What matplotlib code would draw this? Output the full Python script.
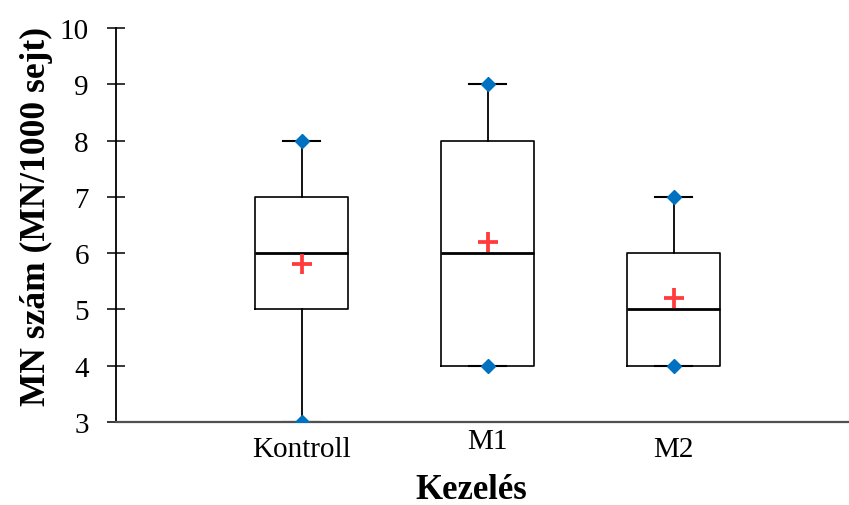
import matplotlib
matplotlib.use("Agg")
import matplotlib.pyplot as plt
import matplotlib.transforms as mtransforms

plt.rcParams["font.family"] = ["Liberation Serif", "DejaVu Serif"]

# adatok
categories = ["Kontroll", "M1", "M2"]
mins = [3, 4, 4]
q1s = [5, 4, 4]
medians = [6, 6, 5]
q3s = [7, 8, 6]
maxs = [8, 9, 7]
means = [5.8, 6.2, 5.2]

stats = []
for i in range(len(categories)):
    stats.append({
        "label": categories[i],
        "whislo": mins[i],
        "q1": q1s[i],
        "med": medians[i],
        "q3": q3s[i],
        "whishi": maxs[i],
        "fliers": [],
    })

fig = plt.figure(figsize=(8.49, 5.06), dpi=100)
ax = fig.add_axes([116 / 849, 1 - 423 / 506, 1 - 116 / 849, (423 - 29) / 506])

positions = [1, 2, 3]
ax.bxp(stats, positions=positions, widths=0.5, showfliers=False,
       boxprops=dict(color="black", linewidth=1.2),
       medianprops=dict(color="black", linewidth=2),
       whiskerprops=dict(color="black", linewidth=1.3),
       capprops=dict(color="black", linewidth=1.5),
       capwidths=0.2)

# min / max pontok
ax.plot(positions, mins, "D", color="#0070C0", markersize=7, linestyle="none", zorder=5)
ax.plot(positions, maxs, "D", color="#0070C0", markersize=7, linestyle="none", zorder=5)

# átlag
ax.plot(positions, means, "+", color="#FF3B3B", markersize=15, markeredgewidth=2.7,
        linestyle="none", zorder=6)

ax.set_xlim(0, 3.944)
ax.set_ylim(3, 10)
ax.set_yticks(range(3, 11))

ax.spines["top"].set_visible(False)
ax.spines["right"].set_visible(False)
ax.spines["left"].set_linewidth(1.3)
ax.spines["bottom"].set_color("#505050")
ax.spines["bottom"].set_linewidth(1.6)

ax.tick_params(axis="y", direction="inout", length=13, width=1.1, labelsize=21, pad=13)
ax.tick_params(axis="x", length=0, labelsize=21, pad=10)
ax.set_xticks(positions)
ax.set_xticklabels(categories)

# M1 felirat kicsit feljebb
lab = ax.get_xticklabels()[1]
lab.set_transform(lab.get_transform() +
                  mtransforms.ScaledTranslation(0, 8 / 100, fig.dpi_scale_trans))

fig.text(471 / 849, 1 - 499 / 506, "Kezelés", ha="center", va="baseline",
         fontsize=25, fontweight="bold")
fig.text(36 / 849, 1 - 217 / 506, "MN szám (MN/1000 sejt)", ha="center", va="center",
         rotation=90, fontsize=25.5, fontweight="bold")

fig.savefig("out.png", dpi=100)
